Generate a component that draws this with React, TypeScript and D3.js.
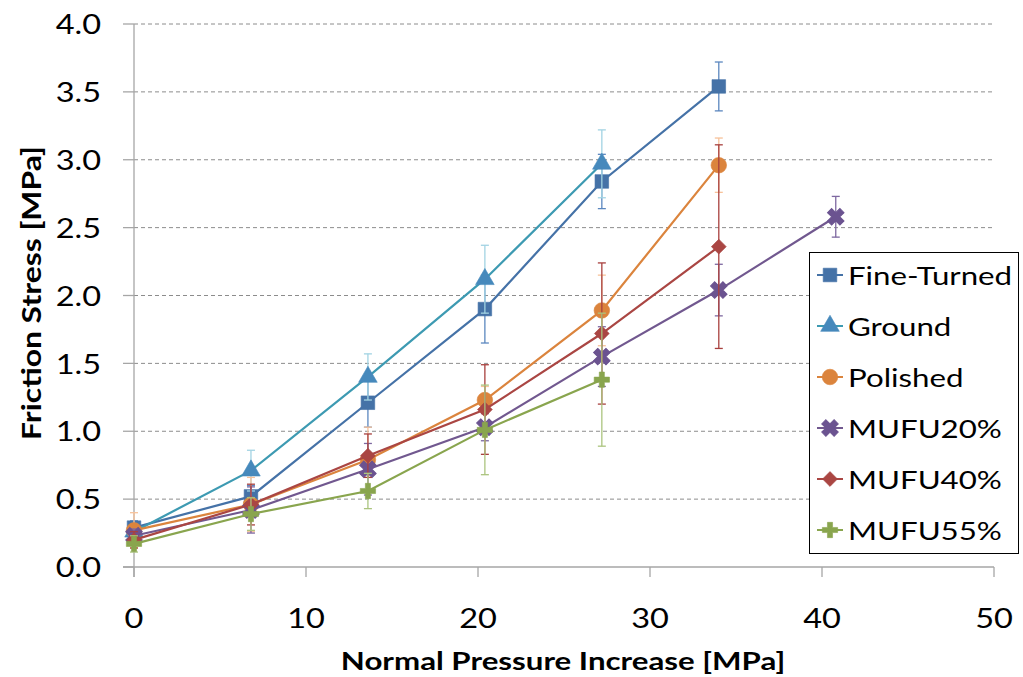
import React from "react";
import * as d3 from "d3";

// Normal pressure increase steps [MPa]
const pressure = [0, 6.8, 13.6, 20.4, 27.2, 34.0, 40.8];

// Friction stress means and standard deviations [MPa] per surface
const fineTurned = [0.29, 0.52, 1.21, 1.9, 2.84, 3.54];
const fineTurnedErr = [0.05, 0.08, 0.18, 0.25, 0.2, 0.18];
const ground = [0.26, 0.71, 1.4, 2.12, 2.97];
const groundErr = [0.05, 0.15, 0.17, 0.25, 0.25];
const polished = [0.27, 0.46, 0.79, 1.23, 1.89, 2.96];
const polishedErr = [0.13, 0.2, 0.24, 0.1, 0.26, 0.2];
const mufu20 = [0.23, 0.42, 0.72, 1.03, 1.55, 2.04, 2.58];
const mufu20Err = [0.05, 0.17, 0.19, 0.1, 0.22, 0.19, 0.15];
const mufu40 = [0.2, 0.46, 0.82, 1.16, 1.72, 2.36];
const mufu40Err = [0.06, 0.15, 0.16, 0.33, 0.52, 0.75];
const mufu55 = [0.17, 0.39, 0.56, 1.01, 1.38];
const mufu55Err = [0.06, 0.12, 0.13, 0.33, 0.49];

const seriesNames = ["Fine-Turned", "Ground", "Polished", "MUFU20%", "MUFU40%", "MUFU55%"];
const xTicks = [0, 10, 20, 30, 40, 50];
const yTicks = [0, 0.5, 1, 1.5, 2, 2.5, 3, 3.5, 4];

type Shape = "square" | "triangle" | "circle" | "x" | "diamond" | "plus";

const styles: { line: string; marker: string; err: string; shape: Shape }[] = [
  { line: "#4572A7", marker: "#4572A7", err: "#5B87BF", shape: "square" },
  { line: "#3D9AB2", marker: "#4689BC", err: "#A2D3E3", shape: "triangle" },
  { line: "#DB843D", marker: "#DB843D", err: "#F7C29A", shape: "circle" },
  { line: "#71588F", marker: "#6B5390", err: "#7E68A0", shape: "x" },
  { line: "#AA4643", marker: "#AA4643", err: "#A8403E", shape: "diamond" },
  { line: "#89A54E", marker: "#89A54E", err: "#ABC47E", shape: "plus" },
];

const values = [fineTurned, ground, polished, mufu20, mufu40, mufu55];
const errors = [fineTurnedErr, groundErr, polishedErr, mufu20Err, mufu40Err, mufu55Err];

const W = 1023;
const H = 677;
const x = d3.scaleLinear().domain([0, 50]).range([134, 994]);
const y = d3.scaleLinear().domain([0, 4]).range([567, 24]);

const FONT = "Lato, 'Open Sans', sans-serif";
const SX = 1.25;

function markerPath(shape: Shape): { d: string; rotate: number } {
  const sym = d3.symbol();
  switch (shape) {
    case "square":
      return { d: sym.type(d3.symbolSquare).size(185)(), rotate: 0 };
    case "triangle":
      return { d: sym.type(d3.symbolTriangle).size(150)(), rotate: 0 };
    case "circle":
      return { d: sym.type(d3.symbolCircle).size(190)(), rotate: 0 };
    case "x":
      return { d: sym.type(d3.symbolCross).size(170)(), rotate: 45 };
    case "diamond":
      return { d: sym.type(d3.symbolSquare).size(110)(), rotate: 45 };
    case "plus":
      return { d: sym.type(d3.symbolCross).size(130)(), rotate: 0 };
  }
}

function Marker({ cx, cy, shape, color }: { cx: number; cy: number; shape: Shape; color: string }) {
  const m = markerPath(shape);
  return (
    <path
      d={m.d}
      transform={`translate(${cx},${cy}) rotate(${m.rotate})`}
      fill={color}
      stroke={color}
      strokeWidth={shape === "x" ? 1 : 0.6}
    />
  );
}

function StretchText({
  x0,
  y0,
  children,
  anchor = "start",
  size = 24,
  weight = 400,
  rotate = 0,
  sx = SX,
}: {
  x0: number;
  y0: number;
  children: React.ReactNode;
  anchor?: string;
  size?: number;
  weight?: number;
  rotate?: number;
  sx?: number;
}) {
  return (
    <text
      transform={`translate(${x0},${y0}) rotate(${rotate}) scale(${sx},1)`}
      textAnchor={anchor}
      dominantBaseline="central"
      fontFamily={FONT}
      fontSize={size}
      fontWeight={weight}
      fill="#000"
    >
      {children}
    </text>
  );
}

export default function App() {
  const line = d3
    .line<[number, number]>()
    .x((d) => x(d[0]))
    .y((d) => y(d[1]));

  return (
    <svg width={W} height={H} style={{ position: "absolute", left: 0, top: 0, background: "#fff" }}>
      <rect width={W} height={H} fill="#fff" />

      {/* gridlines */}
      {yTicks
        .filter((t) => t > 0)
        .map((t) => (
          <line
            key={`g${t}`}
            x1={x(0)}
            x2={x(50)}
            y1={y(t)}
            y2={y(t)}
            stroke="#8C8C8C"
            strokeWidth={1}
            strokeDasharray="4,3"
          />
        ))}

      {/* axes */}
      <line x1={x(0)} x2={x(0)} y1={y(4)} y2={y(0) + 10} stroke="#A6A6A6" strokeWidth={1.3} />
      <line x1={x(0) - 11} x2={x(50)} y1={y(0)} y2={y(0)} stroke="#A6A6A6" strokeWidth={1.3} />
      {yTicks.map((t) => (
        <line key={`yt${t}`} x1={x(0) - 11} x2={x(0)} y1={y(t)} y2={y(t)} stroke="#A6A6A6" strokeWidth={1.3} />
      ))}
      {xTicks.map((t) => (
        <line key={`xt${t}`} x1={x(t)} x2={x(t)} y1={y(0)} y2={y(0) + 10} stroke="#A6A6A6" strokeWidth={1.3} />
      ))}

      {/* tick labels */}
      {yTicks.map((t) => (
        <StretchText key={`yl${t}`} x0={101} y0={y(t)} anchor="end" size={26}>
          {t.toFixed(1)}
        </StretchText>
      ))}
      {xTicks.map((t) => (
        <StretchText key={`xl${t}`} x0={x(t)} y0={618} anchor="middle" size={26}>
          {String(t)}
        </StretchText>
      ))}

      {/* axis titles */}
      <StretchText x0={563} y0={660} anchor="middle" size={25} weight={700}>
        Normal Pressure Increase [MPa]
      </StretchText>
      <StretchText x0={30} y0={293} anchor="middle" size={27} weight={700} rotate={-90} sx={1.18}>
        Friction Stress [MPa]
      </StretchText>

      {/* series: error bars, line, markers */}
      {values.map((vals, si) => {
        const st = styles[si];
        const pts: [number, number][] = vals.map((v, i) => [pressure[i], v]);
        return (
          <g key={seriesNames[si]}>
            {pts.map(([px, py], i) => {
              const e = errors[si][i];
              const cx = x(px);
              return (
                <g key={`e${i}`} stroke={st.err} strokeWidth={1.3}>
                  <line x1={cx} x2={cx} y1={y(py + e)} y2={y(py - e)} />
                  <line x1={cx - 4} x2={cx + 4} y1={y(py + e)} y2={y(py + e)} />
                  <line x1={cx - 4} x2={cx + 4} y1={y(py - e)} y2={y(py - e)} />
                </g>
              );
            })}
            <path d={line(pts) || ""} fill="none" stroke={st.line} strokeWidth={2.2} />
            {pts.map(([px, py], i) => (
              <Marker key={`m${i}`} cx={x(px)} cy={y(py)} shape={st.shape} color={st.marker} />
            ))}
          </g>
        );
      })}

      {/* legend */}
      <g>
        <rect x={809.5} y={252.5} width={209} height={301} fill="#fff" stroke="#000" strokeWidth={1} />
        {seriesNames.map((name, i) => {
          const st = styles[i];
          const ly = 275 + i * 51;
          return (
            <g key={`lg${name}`}>
              <line x1={817} x2={843} y1={ly} y2={ly} stroke={st.line} strokeWidth={2} />
              <Marker cx={830} cy={ly} shape={st.shape} color={st.marker} />
              <StretchText x0={848} y0={ly} size={25}>
                {name}
              </StretchText>
            </g>
          );
        })}
      </g>
    </svg>
  );
}
